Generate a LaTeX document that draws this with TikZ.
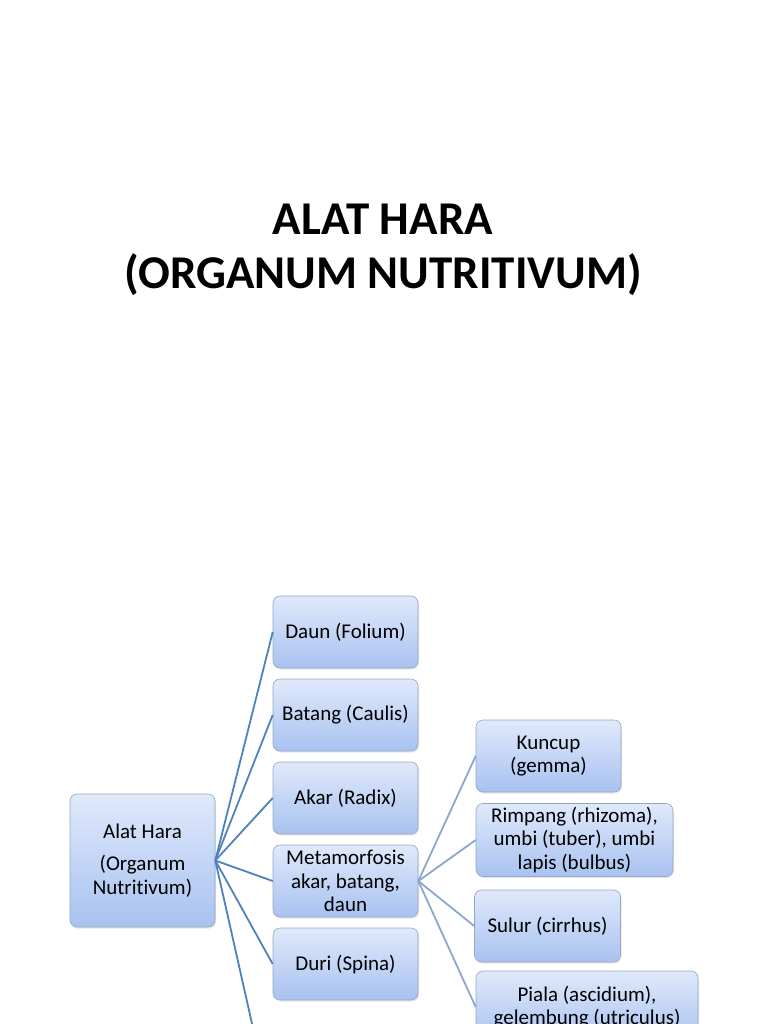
\documentclass[tikz,border=0pt]{standalone}
\usepackage{fontspec}
\setmainfont{Carlito}[Ligatures=NoCommon]
\usepackage{tikz}
\usetikzlibrary{arrows,shadows}
\usepackage{xcolor}
\definecolor{boxtop}{RGB}{224,233,251}
\definecolor{boxbot}{RGB}{168,194,240}
\definecolor{boxline}{RGB}{150,166,195}
\definecolor{linkA}{RGB}{79,129,189}
\definecolor{linkB}{RGB}{140,166,204}

\begin{document}
\begin{tikzpicture}[x=1pt, y=-1pt,
	box/.style={draw=boxline, line width=0.6pt, rounded corners=7pt,
		top color=boxtop, bottom color=boxbot, align=center,
		inner sep=1pt, font=\fontsize{21}{23.5}\selectfont,
		minimum width=145pt, minimum height=72pt,
		drop shadow={opacity=0.2, shadow xshift=1pt, shadow yshift=-1.5pt}},
	linkone/.style={draw=linkA, line width=1.8pt},
	linktwo/.style={draw=linkB, line width=1.8pt}]
\useasboundingbox (0,0) rectangle (768,1024);
\clip (0,0) rectangle (768,1024);

\node (title) at (383,250) [align=center, font=\fontsize{47}{54}\selectfont\bfseries]
	{ALAT HARA\\(ORGANUM NUTRITIVUM)};

% tingkat pertama
\node (hara) at (142.5,860.5) [box, minimum height=133pt]
	{Alat Hara\\[9pt](Organum\\Nutritivum)};
\node (daun) at (345.5,632) [box] {Daun (Folium)};
\node (batang) at (345.5,715) [box] {Batang (Caulis)};
\node (akar) at (345.5,798) [box] {Akar (Radix)};
\node (meta) at (345.5,881) [box] {Metamorfosis\\akar, batang,\\daun};
\node (duri) at (345.5,964) [box] {Duri (Spina)};
\coordinate (lain) at (273,1117);

% tingkat kedua
\node (kuncup) at (548.5,756) [box] {Kuncup\\(gemma)};
\node (rimpang) at (574.5,840) [box, minimum width=197pt, minimum height=73pt]
	{Rimpang (rhizoma),\\umbi (tuber), umbi\\lapis (bulbus)};
\node (sulur) at (547.5,926) [box, minimum width=146pt] {Sulur (cirrhus)};
\node (piala) at (587,1007) [box, minimum width=222pt]
	{Piala (ascidium),\\gelembung (utriculus)};

\draw[linkone] (hara.east) -- (daun.west);
\draw[linkone] (hara.east) -- (batang.west);
\draw[linkone] (hara.east) -- (akar.west);
\draw[linkone] (hara.east) -- (meta.west);
\draw[linkone] (hara.east) -- (duri.west);
\draw[linkone] (hara.east) -- (lain);

\draw[linktwo] (meta.east) -- (kuncup.west);
\draw[linktwo] (meta.east) -- (rimpang.west);
\draw[linktwo] (meta.east) -- (sulur.west);
\draw[linktwo] (meta.east) -- (piala.west);
\end{tikzpicture}
\end{document}
